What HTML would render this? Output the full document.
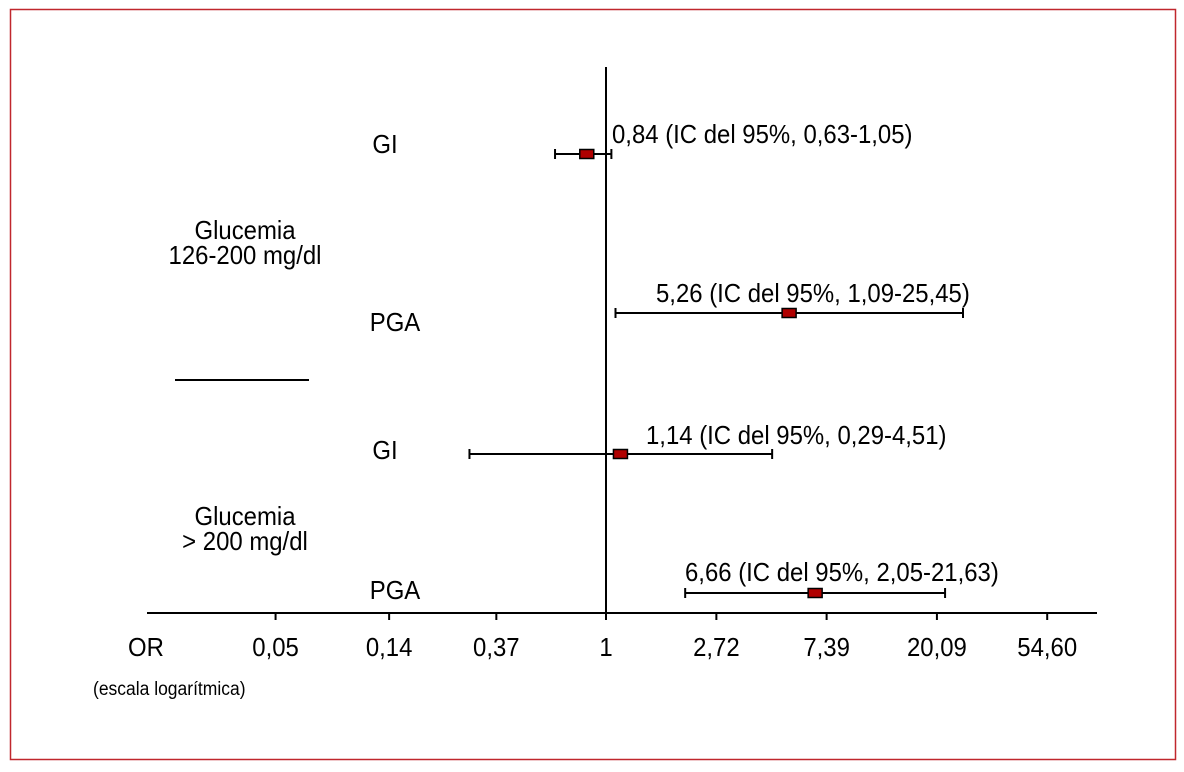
<!DOCTYPE html>
<html><head><meta charset="utf-8"><style>
body{margin:0;background:#fff}
svg text{font-family:"Liberation Sans Narrow","Liberation Sans",sans-serif;fill:#000}
</style></head><body>
<svg width="1184" height="767" viewBox="0 0 1184 767">
<rect x="10.5" y="9.5" width="1165" height="750" fill="none" stroke="#c0272d" stroke-width="1.5"/>
<g id="g"></g>
</svg>
<script>
const tickValues=[0.05,0.14,0.37,1,2.72,7.39,20.09,54.60];
const tickLabels=["0,05","0,14","0,37","1","2,72","7,39","20,09","54,60"];
const orValues=[0.84,5.26,1.14,6.66];
const ciLow=[0.63,1.09,0.29,2.05];
const ciHigh=[1.05,25.45,4.51,21.63];
const rowLabels=["GI","PGA","GI","PGA"];
const valueLabels=["0,84 (IC del 95%, 0,63-1,05)","5,26 (IC del 95%, 1,09-25,45)","1,14 (IC del 95%, 0,29-4,51)","6,66 (IC del 95%, 2,05-21,63)"];
const rowY=[154,313,454,593];
const NS="http://www.w3.org/2000/svg";
const g=document.getElementById('g');
const X=v=>606+110.3*Math.log(v);
function mk(t,a,txt){const e=document.createElementNS(NS,t);for(const k in a)e.setAttribute(k,a[k]);if(txt!=null)e.textContent=txt;g.appendChild(e);
 if(t==='text'){const L=e.getComputedTextLength();e.setAttribute('textLength',L*0.92);e.setAttribute('lengthAdjust','spacingAndGlyphs');}
 return e;}
let e;
e=mk('line',{x1:147,x2:1097,y1:613,y2:613,stroke:'#000','stroke-width':2});


e=mk('line',{x1:606,x2:606,y1:67,y2:613,stroke:'#000','stroke-width':2});


e=mk('line',{x1:175,x2:309,y1:380,y2:380,stroke:'#000','stroke-width':2});


tickValues.forEach((v,i)=>{
  const x=X(v);
  e=mk('line',{x1:x,x2:x,y1:613,y2:620,stroke:'#000','stroke-width':2});
  
  
  e=mk('text',{x:x,y:656,'font-size':26,'text-anchor':'middle'},tickLabels[i]);
  
  
});
e=mk('text',{x:146,y:656,'font-size':26,'text-anchor':'middle'},'OR');


e=mk('text',{x:93,y:695,'font-size':19},'(escala logarítmica)');


[["Glucemia",239],["126-200 mg/dl",264],["Glucemia",525],["> 200 mg/dl",550]].forEach(([t,y])=>{
  e=mk('text',{x:245,y:y,'font-size':26,'text-anchor':'middle'},t);
  
  
});
const labY=[153,331,459,599];
const valX=[612,656,646,685];
const valY=[143,302,444,581];
orValues.forEach((v,i)=>{
  const y=rowY[i],l=X(ciLow[i]),h=X(ciHigh[i]),c=X(v);
  e=mk('line',{x1:l,x2:h,y1:y,y2:y,stroke:'#000','stroke-width':2});
  
  
  [l,h].forEach(x=>{
    e=mk('line',{x1:x,x2:x,y1:y-5,y2:y+5,stroke:'#000','stroke-width':2});
    
    
  });
  e=mk('rect',{x:c-7,y:y-4.5,width:14,height:9,fill:'#b00000',stroke:'#000','stroke-width':1.5});
  
  
  e=mk('text',{x:rowLabels[i]==='GI'?385:395,y:labY[i],'font-size':26,'text-anchor':'middle'},rowLabels[i]);
  
  
  e=mk('text',{x:valX[i],y:valY[i],'font-size':26},valueLabels[i]);
  
  
});
</script>
</body></html>
